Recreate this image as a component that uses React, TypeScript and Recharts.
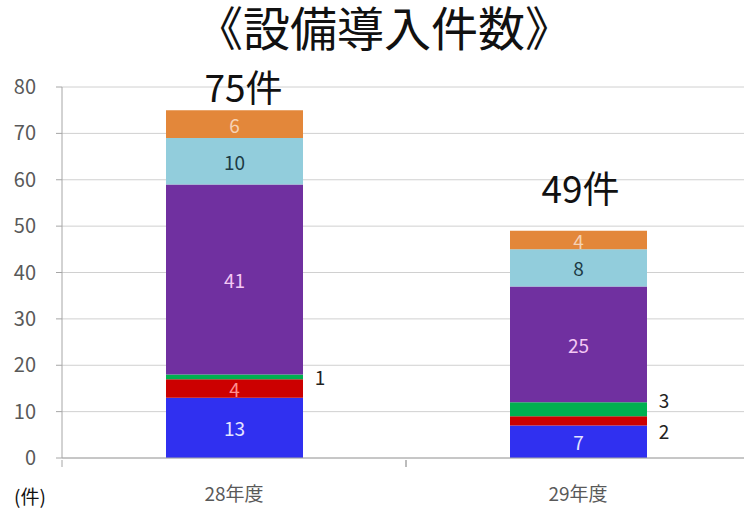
import React from 'react';
import { BarChart, Bar, XAxis, YAxis, CartesianGrid, LabelList } from 'recharts';

const categories = ['28年度', '29年度'];
const seriesBlue = [13, 7];
const seriesRed = [4, 2];
const seriesGreen = [1, 3];
const seriesPurple = [41, 25];
const seriesLightBlue = [10, 8];
const seriesOrange = [6, 4];
const totalLabels = ['75件', '49件'];
const yTicks = [0, 10, 20, 30, 40, 50, 60, 70, 80];
const title = '《設備導入件数》';
const unitLabel = '(件)';

const data = categories.map((c, i) => ({
  name: c,
  blue: seriesBlue[i],
  red: seriesRed[i],
  green: seriesGreen[i],
  purple: seriesPurple[i],
  lightblue: seriesLightBlue[i],
  orange: seriesOrange[i],
}));

const FONT = '"Noto Sans CJK JP", "Noto Sans", sans-serif';

type SeriesCfg = {
  key: string;
  color: string;
  labelColor: string;
  outside: boolean[];
  dy: number[];
};

const series: SeriesCfg[] = [
  { key: 'blue', color: '#3030f0', labelColor: '#e4e4ff', outside: [false, false], dy: [0, 0] },
  { key: 'red', color: '#cc0000', labelColor: '#ff9090', outside: [false, true], dy: [0, 10] },
  { key: 'green', color: '#00b050', labelColor: '#222222', outside: [true, true], dy: [0, -10] },
  { key: 'purple', color: '#7030a0', labelColor: '#f4c8f4', outside: [false, false], dy: [0, 0] },
  { key: 'lightblue', color: '#92cddc', labelColor: '#1c3a44', outside: [false, false], dy: [0, 0] },
  { key: 'orange', color: '#e3873a', labelColor: '#f6d2b4', outside: [false, false], dy: [0, 0] },
];

const totalOffsetsY = [8, 28];
const totalOffsetsX = [9, 2];

const makeLabel = (cfg: SeriesCfg) => (props: any) => {
  const { x, y, width, height, value, index } = props;
  const out = cfg.outside[index];
  const cx = out ? x + width + 17 : x + width / 2;
  const cy = y + height / 2 + cfg.dy[index];
  return (
    <text
      x={cx}
      y={cy}
      textAnchor="middle"
      dominantBaseline="central"
      fill={out ? '#222222' : cfg.labelColor}
      fontSize={19}
      fontFamily={FONT}
    >
      {value}
    </text>
  );
};

const TotalLabel = (props: any) => {
  const { x, y, width, index } = props;
  return (
    <text
      x={x + width / 2 + totalOffsetsX[index]}
      y={y - totalOffsetsY[index]}
      textAnchor="middle"
      fill="#111111"
      fontSize={37}
      fontFamily={FONT}
    >
      {totalLabels[index]}
    </text>
  );
};

const XTick = (props: any) => {
  const { x, y, payload } = props;
  const half = payload.offset || 0;
  return (
    <g>
      <line x1={x - half} y1={y} x2={x - half} y2={y + 7} stroke="#a6a6a6" />
      <line x1={x + half} y1={y} x2={x + half} y2={y + 7} stroke="#a6a6a6" />
      <text x={x} y={y + 41} textAnchor="middle" fill="#595959" fontSize={19} fontFamily={FONT}>
        {payload.value}
      </text>
    </g>
  );
};

export default function App() {
  return (
    <div style={{ position: 'fixed', top: 0, left: 0, width: 744, height: 511, overflow: 'hidden', background: '#ffffff' }}>
      <div
        style={{
          position: 'absolute',
          top: 0,
          left: 24,
          width: 720,
          textAlign: 'center',
          fontSize: 47,
          fontFamily: FONT,
          color: '#111111',
          lineHeight: '52px',
          whiteSpace: 'nowrap',
        }}
      >
        {title}
      </div>
      <div
        style={{
          position: 'absolute',
          top: 484,
          left: 14,
          fontSize: 19,
          fontFamily: FONT,
          color: '#111111',
          lineHeight: '24px',
        }}
      >
        {unitLabel}
      </div>
      <div style={{ position: 'absolute', top: 0, left: 0 }}>
        <BarChart
          width={744}
          height={511}
          data={data}
          margin={{ top: 87, right: -6, bottom: 0, left: 0 }}
          barSize={137}
        >
          <CartesianGrid vertical={false} stroke="#d0d0d0" />
          <XAxis
            dataKey="name"
            height={53}
            tickLine={false}
            tickSize={0}
            tick={<XTick />}
            stroke="#a6a6a6"
            interval={0}
          />
          <YAxis
            width={62}
            domain={[0, 80]}
            ticks={yTicks}
            tickSize={6}
            tickMargin={20}
            stroke="#a6a6a6"
            tick={{ fill: '#595959', fontSize: 20, fontFamily: FONT }}
            interval={0}
          />
          {series.map((s, si) => (
            <Bar key={s.key} dataKey={s.key} stackId="a" fill={s.color} isAnimationActive={false}>
              <LabelList dataKey={s.key} content={makeLabel(s)} />
              {si === series.length - 1 ? <LabelList dataKey={s.key} content={<TotalLabel />} /> : null}
            </Bar>
          ))}
        </BarChart>
      </div>
    </div>
  );
}
